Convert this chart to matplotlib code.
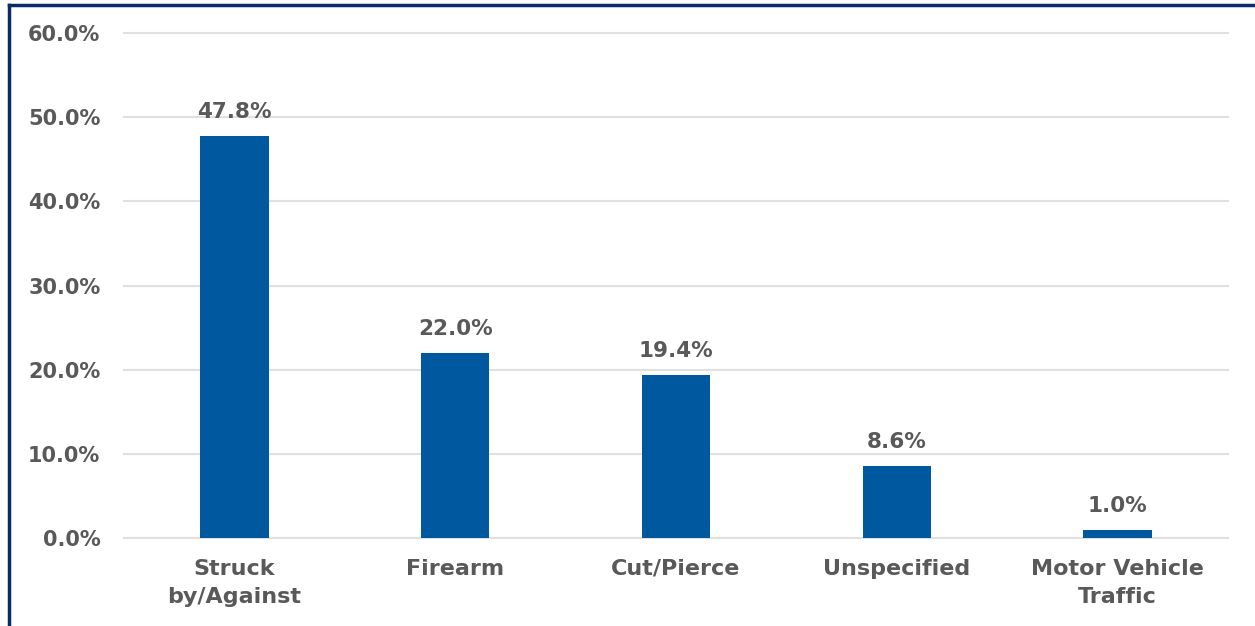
import matplotlib
matplotlib.use('Agg')
import matplotlib.pyplot as plt
from matplotlib.lines import Line2D
from matplotlib.ticker import FuncFormatter

# ── Data ────────────────────────────────────────────────────────────────
categories = ['Struck\nby/Against', 'Firearm', 'Cut/Pierce', 'Unspecified',
              'Motor Vehicle\nTraffic']
values = [47.8, 22.0, 19.4, 8.6, 1.0]
y_ticks = [0, 10, 20, 30, 40, 50, 60]

BAR_COLOR = '#00589F'
TEXT_COLOR = '#595959'
GRID_COLOR = '#E0E0E0'
BORDER_COLOR = '#0B2A66'

plt.rcParams['font.family'] = ['DejaVu Sans']

fig = plt.figure(figsize=(12.55, 6.26), dpi=100)
ax = fig.add_axes([124 / 1255, 1 - 538 / 626, 1104 / 1255, 505 / 626])

x = list(range(len(categories)))
ax.bar(x, values, width=0.31, color=BAR_COLOR, zorder=3)

for xi, v in zip(x, values):
    ax.text(xi, v + 1.6, f'{v:.1f}%', ha='center', va='bottom',
            fontsize=15.5, fontweight='bold', color=TEXT_COLOR)

ax.set_xlim(-0.5, len(categories) - 0.5)
ax.set_ylim(0, 60)
ax.set_yticks(y_ticks)
ax.yaxis.set_major_formatter(FuncFormatter(lambda v, p: f'{v:.1f}%'))
ax.set_xticks(x)
ax.set_xticklabels(categories, linespacing=1.5)

ax.grid(axis='y', color=GRID_COLOR, linewidth=1.5, zorder=0)
for gl in ax.get_ygridlines():
    gl.set_clip_on(False)
for s in ax.spines.values():
    s.set_visible(False)
ax.tick_params(axis='both', length=0, labelcolor=TEXT_COLOR)
ax.tick_params(axis='y', pad=17, labelsize=15)
ax.tick_params(axis='x', pad=15, labelsize=16)
for lab in ax.get_xticklabels() + ax.get_yticklabels():
    lab.set_fontweight('bold')

# frame around the chart (top and left visible in the reference)
fig.add_artist(Line2D([9 / 1255, 1], [1 - 4.5 / 626, 1 - 4.5 / 626],
                      transform=fig.transFigure, color=BORDER_COLOR, linewidth=2.5))
fig.add_artist(Line2D([9 / 1255, 9 / 1255], [0, 1 - 4.5 / 626],
                      transform=fig.transFigure, color=BORDER_COLOR, linewidth=2.5))

fig.savefig('out.png', dpi=100)
